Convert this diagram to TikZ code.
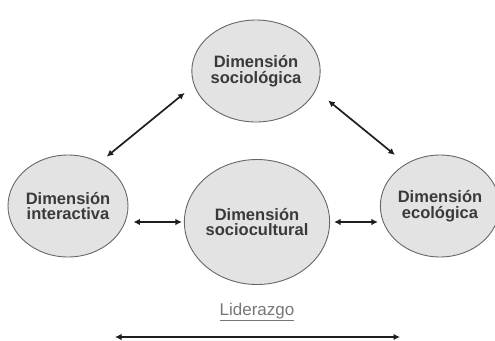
\documentclass[tikz,border=0pt]{standalone}
\usepackage{fontspec}
\setmainfont{Liberation Sans}
\usetikzlibrary{shapes.geometric,arrows.meta}
\definecolor{dimfill}{HTML}{E3E3E3}
\definecolor{dimline}{HTML}{666666}
\definecolor{dimtext}{HTML}{3A3A3A}
\definecolor{arrowcol}{HTML}{1E1E1E}
\definecolor{leadtext}{HTML}{777777}
\tikzset{
  dim/.style={ellipse, draw=dimline, fill=dimfill, line width=0.9pt,
    inner sep=0pt, align=center, text=dimtext,
    font=\fontsize{16.5}{15.5}\selectfont\bfseries},
  link/.style={draw=arrowcol, line width=1.7pt,
    {Latex[length=6.5pt,width=6.5pt]}-{Latex[length=6.5pt,width=6.5pt]}}
}
\begin{document}
\begin{tikzpicture}[x=1pt,y=-1pt]
  \useasboundingbox (0,0) rectangle (495,340);

  % the four dimensions
  \node[dim, minimum width=122pt, minimum height=102pt] (socio) at (256,71)
    {Dimensión\\sociológica};
  \node[dim, minimum width=120pt, minimum height=102pt] (inter) at (68,206)
    {Dimensión\\interactiva};
  \node[dim, minimum width=145pt, minimum height=125pt] (cult) at (257,222)
    {Dimensión\\sociocultural};
  \node[dim, minimum width=110pt, minimum height=102pt] (eco) at (440,206)
    {Dimensión\\ecológica};

  % relations between the dimensions
  \draw[link, shorten <=9pt, shorten >=12pt] (inter.54) -- (socio.193.5);
  \draw[link, shorten <=16pt, shorten >=14pt] (socio.-18.4) -- (eco.129.6);
  \draw[link, shorten <=2pt, shorten >=5pt] (cult.west) -- (cult.west -| inter.east);
  \draw[link, shorten <=4pt, shorten >=2pt] (cult.east) -- (cult.east -| eco.west);

  % leadership axis
  \node[text=leadtext, font=\fontsize{17}{18}\selectfont, inner sep=1pt] (lead) at (257,312)
    {\underline{Liderazgo}};
  \coordinate (la) at (115,337);
  \coordinate (lb) at (400,337);
  \draw[link] (la) -- (lb);
\end{tikzpicture}
\end{document}
